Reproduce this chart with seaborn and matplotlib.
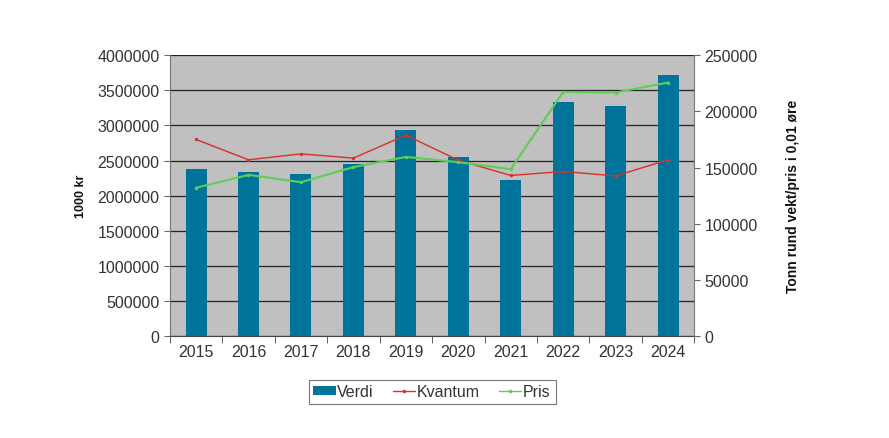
import pandas as pd
import seaborn as sns
import matplotlib.pyplot as plt
from matplotlib.patches import Patch
from matplotlib.lines import Line2D
from matplotlib.ticker import FuncFormatter

years = ["2015", "2016", "2017", "2018", "2019", "2020", "2021", "2022", "2023", "2024"]
verdi = [2377000, 2334000, 2306000, 2458000, 2942000, 2544000, 2225000, 3327000, 3270000, 3720000]
kvantum = [175000, 156900, 162200, 158400, 178800, 156600, 143000, 146500, 142600, 156900]
pris = [132000, 143500, 137000, 150400, 159500, 154800, 148600, 217300, 216800, 225700]

df = pd.DataFrame({"year": years, "verdi": verdi, "kvantum": kvantum, "pris": pris})

bar_col = "#00739a"
red = "#d9302a"
green = "#5ccf55"
txt = "#333333"

sns.set_style("white")
plt.rcParams["font.family"] = ["Liberation Sans", "DejaVu Sans"]
plt.rcParams["text.color"] = txt
plt.rcParams["xtick.color"] = txt
plt.rcParams["ytick.color"] = txt

fig = plt.figure(figsize=(8.89, 4.39), dpi=100)
ax = fig.add_axes([0.191, 0.232, 0.590, 0.640])
ax.set_facecolor("#c0c0c0")

sns.barplot(x="year", y="verdi", data=df, color=bar_col, width=0.4,
            saturation=1, edgecolor="none", linewidth=0, ax=ax, zorder=3)
ax.set_ylim(0, 4000000)
ax.set_yticks(range(0, 4000001, 500000))
ax.yaxis.set_major_formatter(FuncFormatter(lambda v, p: f"{int(v)}"))
ax.set_xlim(-0.5, 9.5)
ax.grid(axis="y", color="#222222", linewidth=0.9, zorder=0)
ax.set_axisbelow(True)
ax.set_xlabel("")
ax.set_ylabel("1000 kr", fontsize=9, fontweight="bold", labelpad=7, color="#111111")
ax.tick_params(axis="y", labelsize=11.5, length=4, color="#666666", direction="out", left=True)
ax.tick_params(axis="x", labelsize=11.5, length=0, pad=6)
# ticks between categories
ax.set_xticks([i + 0.5 for i in range(-1, 10)], minor=True)
ax.tick_params(axis="x", which="minor", length=5, color="#444444", bottom=True)
for s in ["top", "right"]:
    ax.spines[s].set_visible(False)
ax.spines["left"].set_color("#777777")
ax.spines["bottom"].set_color("#444444")

ax2 = ax.twinx()
sns.lineplot(x="year", y="kvantum", data=df, color=red, marker="o", markersize=2.5,
             linewidth=1, markeredgewidth=0, ax=ax2, sort=False)
sns.lineplot(x="year", y="pris", data=df, color=green, marker="o", markersize=2.5,
             linewidth=1.5, markeredgewidth=0, ax=ax2, sort=False)
ax2.set_ylim(0, 250000)
ax2.set_yticks(range(0, 250001, 50000))
ax2.set_xlim(-0.5, 9.5)
ax2.set_ylabel("Tonn rund vekt/pris i 0,01 øre", fontsize=10, fontweight="bold",
               labelpad=20, color="#111111")
ax2.tick_params(axis="y", labelsize=11.5, length=4, color="#666666", direction="out", right=True)
for s in ["top", "left", "bottom"]:
    ax2.spines[s].set_visible(False)
ax2.spines["right"].set_color("#777777")

handles = [
    Patch(facecolor=bar_col, edgecolor="none", label="Verdi"),
    Line2D([0], [0], color=red, marker="o", markersize=1.5, linewidth=1, label="Kvantum"),
    Line2D([0], [0], color=green, marker="o", markersize=1.5, linewidth=1, label="Pris"),
]
leg = fig.legend(handles=handles, loc="center", bbox_to_anchor=(0.486, 0.105), ncol=3,
                 fontsize=11.5, frameon=True, fancybox=False, edgecolor="#555555",
                 handlelength=1.4, handleheight=0.5, handletextpad=0.1,
                 columnspacing=1.2, borderpad=0.3)
leg.get_frame().set_linewidth(0.8)

fig.savefig("out.png", dpi=100)
